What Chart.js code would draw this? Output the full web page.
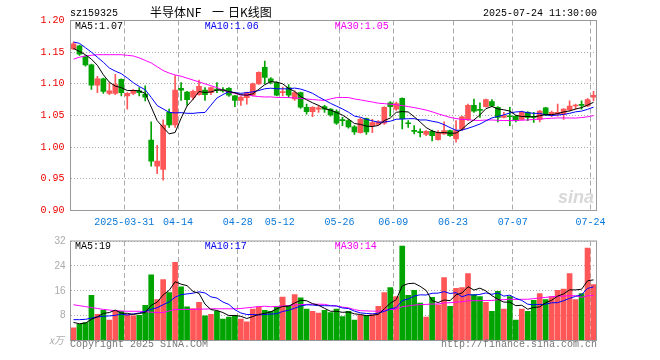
<!DOCTYPE html>
<html>
<head>
<meta charset="utf-8">
<script src="https://cdn.jsdelivr.net/npm/chart.js@4/dist/chart.umd.min.js"></script>
<style>
    body { margin: 0; background: #fff; }
    #wrap { position: relative; width: 660px; height: 360px; overflow: hidden; }
    canvas { position: absolute; left: 0; }
    .txt { position: absolute; font-family: "Liberation Mono", monospace; font-size: 10px; line-height: 10px; white-space: nowrap; }
    .cjk { position: absolute; top: 6px; font-family: "Noto Sans CJK SC"; font-size: 12px; line-height: 12px; white-space: nowrap; color: #000; }
</style>
</head>
<body>
<div id="wrap">
    <canvas id="klineCanvas" width="660" height="230" style="top:0"></canvas>
    <canvas id="volCanvas" width="660" height="130" style="top:230px"></canvas>

    <div class="txt" style="left:70px;top:9px;color:#000">sz159325</div>
    <div id="title">
        <span class="cjk" style="left:150px">半导体NF</span>
        <span class="cjk" style="left:212px">一</span>
        <span class="cjk" style="left:228px">日K线图</span>
    </div>
    <div class="txt" style="right:63px;top:9px;color:#000">2025-07-24 11:30:00</div>

    <div class="txt" style="left:75px;top:21.6px;color:#000">MA5:1.07</div>
    <div class="txt" style="left:204.7px;top:21.6px;color:#0000ee">MA10:1.06</div>
    <div class="txt" style="left:334.7px;top:21.6px;color:#ee00ee">MA30:1.05</div>

    <div class="txt" style="left:75px;top:242.3px;color:#000">MA5:19</div>
    <div class="txt" style="left:204.7px;top:242.3px;color:#0000ee">MA10:17</div>
    <div class="txt" style="left:334.7px;top:242.3px;color:#ee00ee">MA30:14</div>

    <div class="txt" style="left:49px;top:335px;font-family:'Noto Sans CJK SC';color:#aaa;font-style:italic">x万</div>
    <div class="txt" style="left:70px;top:339.7px;color:#777">Copyright 2025 SINA.COM</div>
    <div class="txt" style="right:63px;top:339.7px;color:#777">http://finance.sina.com.cn</div>
    <div class="txt" style="left:558px;top:188px;font-family:'Liberation Sans';font-size:18px;line-height:18px;font-weight:bold;font-style:italic;color:#d8d8d8">sina</div>
</div>

<script>
// Data
const dates = [
    '03-18','03-19','03-20','03-21','03-24','03-25','03-26','03-27','03-28','03-31',
    '04-01','04-02','04-03','04-07','04-08','04-09','04-10','04-11','04-14','04-15',
    '04-16','04-17','04-18','04-21','04-22','04-23','04-24','04-25','04-28','04-29',
    '04-30','05-06','05-07','05-08','05-09','05-12','05-13','05-14','05-15','05-16',
    '05-19','05-20','05-21','05-22','05-23','05-26','05-27','05-28','05-29','05-30',
    '06-03','06-04','06-05','06-06','06-09','06-10','06-11','06-12','06-13','06-16',
    '06-17','06-18','06-19','06-20','06-23','06-24','06-25','06-26','06-27','06-30',
    '07-01','07-02','07-03','07-04','07-07','07-08','07-09','07-10','07-11','07-14',
    '07-15','07-16','07-17','07-18','07-21','07-22','07-23','07-24'
];
const tickDates = ['03-31','04-14','04-28','05-12','05-26','06-09','06-23','07-07','07-24'];
const tickLabels = ['2025-03-31','04-14','04-28','05-12','05-26','06-09','06-23','07-07','07-24'];

const opens = [
    1.155,1.160,1.143,1.130,1.098,1.108,1.085,1.085,1.107,1.081,
    1.085,1.089,1.084,1.011,0.970,0.965,1.055,1.035,1.093,1.087,
    1.079,1.083,1.090,1.086,1.091,1.091,1.093,1.081,1.074,1.078,
    1.082,1.100,1.126,1.108,1.102,1.086,1.094,1.076,1.086,1.063,
    1.056,1.060,1.064,1.060,1.056,1.043,1.042,1.032,1.023,1.045,
    1.034,1.036,1.038,1.070,1.060,1.077,1.038,1.026,1.024,1.020,
    1.025,1.012,1.021,1.026,1.013,1.029,1.044,1.066,1.059,1.064,
    1.072,1.063,1.047,1.049,1.049,1.044,1.055,1.048,1.044,1.062,
    1.050,1.052,1.052,1.059,1.065,1.067,1.065,1.079
];
const closes = [
    1.163,1.147,1.130,1.098,1.108,1.088,1.089,1.099,1.086,1.085,
    1.089,1.086,1.079,0.978,0.978,1.035,1.035,1.090,1.090,1.075,
    1.088,1.096,1.083,1.094,1.090,1.089,1.082,1.074,1.079,1.086,
    1.100,1.118,1.110,1.103,1.082,1.087,1.082,1.086,1.063,1.056,
    1.063,1.062,1.060,1.051,1.038,1.042,1.032,1.024,1.044,1.024,
    1.039,1.040,1.063,1.064,1.069,1.045,1.037,1.025,1.023,1.025,
    1.018,1.023,1.026,1.018,1.026,1.048,1.066,1.057,1.058,1.075,
    1.065,1.047,1.050,1.048,1.042,1.055,1.047,1.047,1.057,1.051,
    1.055,1.055,1.060,1.065,1.066,1.066,1.075,1.082
];
const highs = [
    1.166,1.161,1.145,1.131,1.112,1.109,1.102,1.115,1.108,1.086,
    1.091,1.094,1.097,1.040,1.003,1.043,1.060,1.113,1.102,1.088,
    1.090,1.106,1.094,1.095,1.102,1.094,1.094,1.082,1.080,1.087,
    1.101,1.119,1.136,1.110,1.103,1.095,1.099,1.089,1.087,1.068,
    1.064,1.066,1.066,1.061,1.059,1.047,1.044,1.034,1.046,1.046,
    1.044,1.042,1.064,1.072,1.071,1.078,1.042,1.034,1.029,1.026,
    1.027,1.026,1.040,1.027,1.042,1.049,1.068,1.076,1.070,1.076,
    1.075,1.064,1.055,1.063,1.050,1.057,1.056,1.055,1.058,1.063,
    1.057,1.068,1.061,1.073,1.068,1.073,1.077,1.088
];
const lows = [
    1.154,1.145,1.128,1.091,1.086,1.085,1.083,1.083,1.081,1.060,
    1.083,1.081,1.073,0.970,0.958,0.948,1.031,1.031,1.074,1.066,
    1.075,1.082,1.074,1.083,1.086,1.087,1.080,1.064,1.066,1.068,
    1.081,1.099,1.100,1.100,1.081,1.081,1.078,1.074,1.061,1.052,
    1.048,1.055,1.055,1.049,1.036,1.034,1.030,1.020,1.022,1.020,
    1.023,1.035,1.036,1.049,1.058,1.029,1.031,1.021,1.016,1.018,
    1.010,1.011,1.020,1.017,1.008,1.027,1.042,1.055,1.047,1.063,
    1.064,1.040,1.046,1.034,1.040,1.043,1.042,1.039,1.040,1.050,
    1.048,1.049,1.044,1.057,1.060,1.060,1.064,1.073
];
// volume, in 万
const volumes = [
    4.1,5.2,5.8,14.5,8.4,9.7,6.6,9.7,9.4,8.3,
    7.9,8.1,11.3,21.1,13.2,19.6,15.4,25.1,17.3,10.8,
    10.3,12.3,7.9,8.4,9.4,6.9,7.5,8.1,6.9,6.0,
    10.1,10.9,9.7,9.4,10.8,14.0,11.3,14.8,13.7,10.1,
    9.4,8.8,9.7,9.0,10.1,7.7,9.4,6.6,8.1,8.1,
    8.3,11.0,15.4,17.0,14.1,30.4,14.5,16.1,12.0,7.5,
    13.9,11.5,20.2,11.0,16.8,17.0,21.5,14.8,14.1,12.3,
    9.4,15.8,10.1,14.1,6.6,10.1,9.4,12.9,15.1,13.2,
    14.1,16.1,16.5,21.5,13.2,15.1,29.7,18.0
];
// MA values at the start of the window (their averaging window begins before 03-18)
const ma5Head = [1.156,1.151,1.146,1.139];
const ma10Head = [1.166,1.164,1.157,1.150,1.142,1.134,1.125,1.120,1.116];
const ma30Head = [
    1.139,1.142,1.144,1.145,1.146,1.146,1.146,1.146,1.146,1.145,
    1.144,1.141,1.137,1.133,1.127,1.121,1.117,1.114,1.112,1.109,
    1.106,1.103,1.100,1.097,1.094,1.090,1.087,1.085,1.082
];
const volMa5Head = [5.8,5.4,5.6,6.8];
const volMa10Head = [6.7,6.7,6.8,7.2,7.6,7.8,7.9,8.1,8.5];
const volMa30Head = [
    11.5,11.2,10.9,10.6,10.3,10.0,9.8,9.6,9.5,9.4,
    9.4,9.4,9.3,9.1,9.0,9.0,9.5,10.0,10.0,10.0,
    10.0,10.1,10.1,10.2,10.2,10.2,10.2,10.2,10.3
];

const RED = '#ff5757';
const GREEN = '#00a400';
const GRID = '#aaaaaa';
const FRAME = '#999999';

// Helpers
function movingAverage(values, n, head) {
    const out = [];
    for (let i = 0; i < values.length; i++) {
        if (i < head.length) {
            out.push(head[i]);
            continue;
        }
        let sum = 0;
        for (let j = i - n + 1; j <= i; j++) {
            sum += values[j];
        }
        out.push(sum / n);
    }
    return out;
}

function toPoints(values) {
    return values.map((v, i) => ({ x: i + 0.5, y: v }));
}

const tickIdx = tickDates.map(d => dates.indexOf(d));
const candleColors = closes.map((c, i) => c >= opens[i] ? RED : GREEN);

const framePlugin = {
    id: 'frame',
    afterDatasetsDraw(chart) {
        const a = chart.chartArea;
        const ctx = chart.ctx;
        ctx.save();
        ctx.strokeStyle = FRAME;
        ctx.lineWidth = 1;
        ctx.setLineDash([]);
        ctx.strokeRect(a.left, a.top, a.right - a.left, a.bottom - a.top);
        ctx.restore();
    }
};

function maLine(values, color) {
    return {
        type: 'line',
        data: toPoints(values),
        borderColor: color,
        borderWidth: 1,
        pointRadius: 0,
        fill: false,
        tension: 0,
        order: 0
    };
}

function xScale(showLabels) {
    return {
        type: 'linear',
        min: 0,
        max: dates.length,
        offset: false,
        afterBuildTicks: (scale) => {
            scale.ticks = tickIdx.map(v => ({ value: v }));
        },
        afterFit: (scale) => {
            scale.height = 19.5;
        },
        ticks: {
            display: showLabels,
            autoSkip: false,
            maxRotation: 0,
            padding: 6,
            color: '#0a78d8',
            font: { family: 'Liberation Mono', size: 10 },
            callback: (value, index) => tickLabels[index]
        },
        grid: { color: GRID, drawTicks: false, offset: false },
        border: { display: false, dash: [5, 3] }
    };
}

// Price chart
new Chart(document.getElementById('klineCanvas').getContext('2d'), {
    type: 'bar',
    data: {
        datasets: [
            maLine(movingAverage(closes, 5, ma5Head), '#000000'),
            maLine(movingAverage(closes, 10, ma10Head), '#0000ff'),
            maLine(movingAverage(closes, 30, ma30Head), '#ff00ff'),
            {
                data: opens.map((o, i) => ({ x: i + 0.5, y: [o, closes[i]] })),
                backgroundColor: candleColors,
                borderWidth: 0,
                barThickness: 5,
                minBarLength: 1,
                grouped: false,
                order: 1
            },
            {
                data: lows.map((l, i) => ({ x: i + 0.5, y: [l, highs[i]] })),
                backgroundColor: candleColors,
                borderWidth: 0,
                barThickness: 1,
                grouped: false,
                order: 2
            }
        ]
    },
    options: {
        responsive: false,
        animation: false,
        layout: { padding: { top: 20.5, right: 63.5, left: 0, bottom: 0 } },
        plugins: {
            legend: { display: false },
            tooltip: { enabled: false }
        },
        scales: {
            x: xScale(true),
            y: {
                min: 0.9,
                max: 1.2,
                afterFit: (scale) => {
                    scale.width = 70.5;
                },
                ticks: {
                    stepSize: 0.05,
                    padding: 6,
                    color: '#ee0000',
                    font: { family: 'Liberation Mono', size: 10 },
                    callback: (v) => Number(v).toFixed(2)
                },
                grid: { color: GRID, drawTicks: false },
                border: { display: false, dash: [1, 2] }
            }
        }
    },
    plugins: [framePlugin]
});

// Volume chart
new Chart(document.getElementById('volCanvas').getContext('2d'), {
    type: 'bar',
    data: {
        datasets: [
            maLine(movingAverage(volumes, 5, volMa5Head), '#000000'),
            maLine(movingAverage(volumes, 10, volMa10Head), '#0000ff'),
            maLine(movingAverage(volumes, 30, volMa30Head), '#ff00ff'),
            {
                data: toPoints(volumes),
                backgroundColor: candleColors,
                borderWidth: 0,
                barThickness: 5,
                grouped: false,
                order: 1
            }
        ]
    },
    options: {
        responsive: false,
        animation: false,
        layout: { padding: { top: 10.5, right: 63.5, left: 0, bottom: 0 } },
        plugins: {
            legend: { display: false },
            tooltip: { enabled: false }
        },
        scales: {
            x: xScale(false),
            y: {
                min: 0,
                max: 32,
                afterFit: (scale) => {
                    scale.width = 70.5;
                },
                ticks: {
                    stepSize: 8,
                    padding: 5,
                    color: '#aaaaaa',
                    font: { family: 'Liberation Sans', size: 10 },
                    callback: (v) => v === 0 ? '' : v
                },
                grid: { color: GRID, drawTicks: false },
                border: { display: false, dash: [1, 2] }
            }
        }
    },
    plugins: [framePlugin]
});
</script>
</body>
</html>
